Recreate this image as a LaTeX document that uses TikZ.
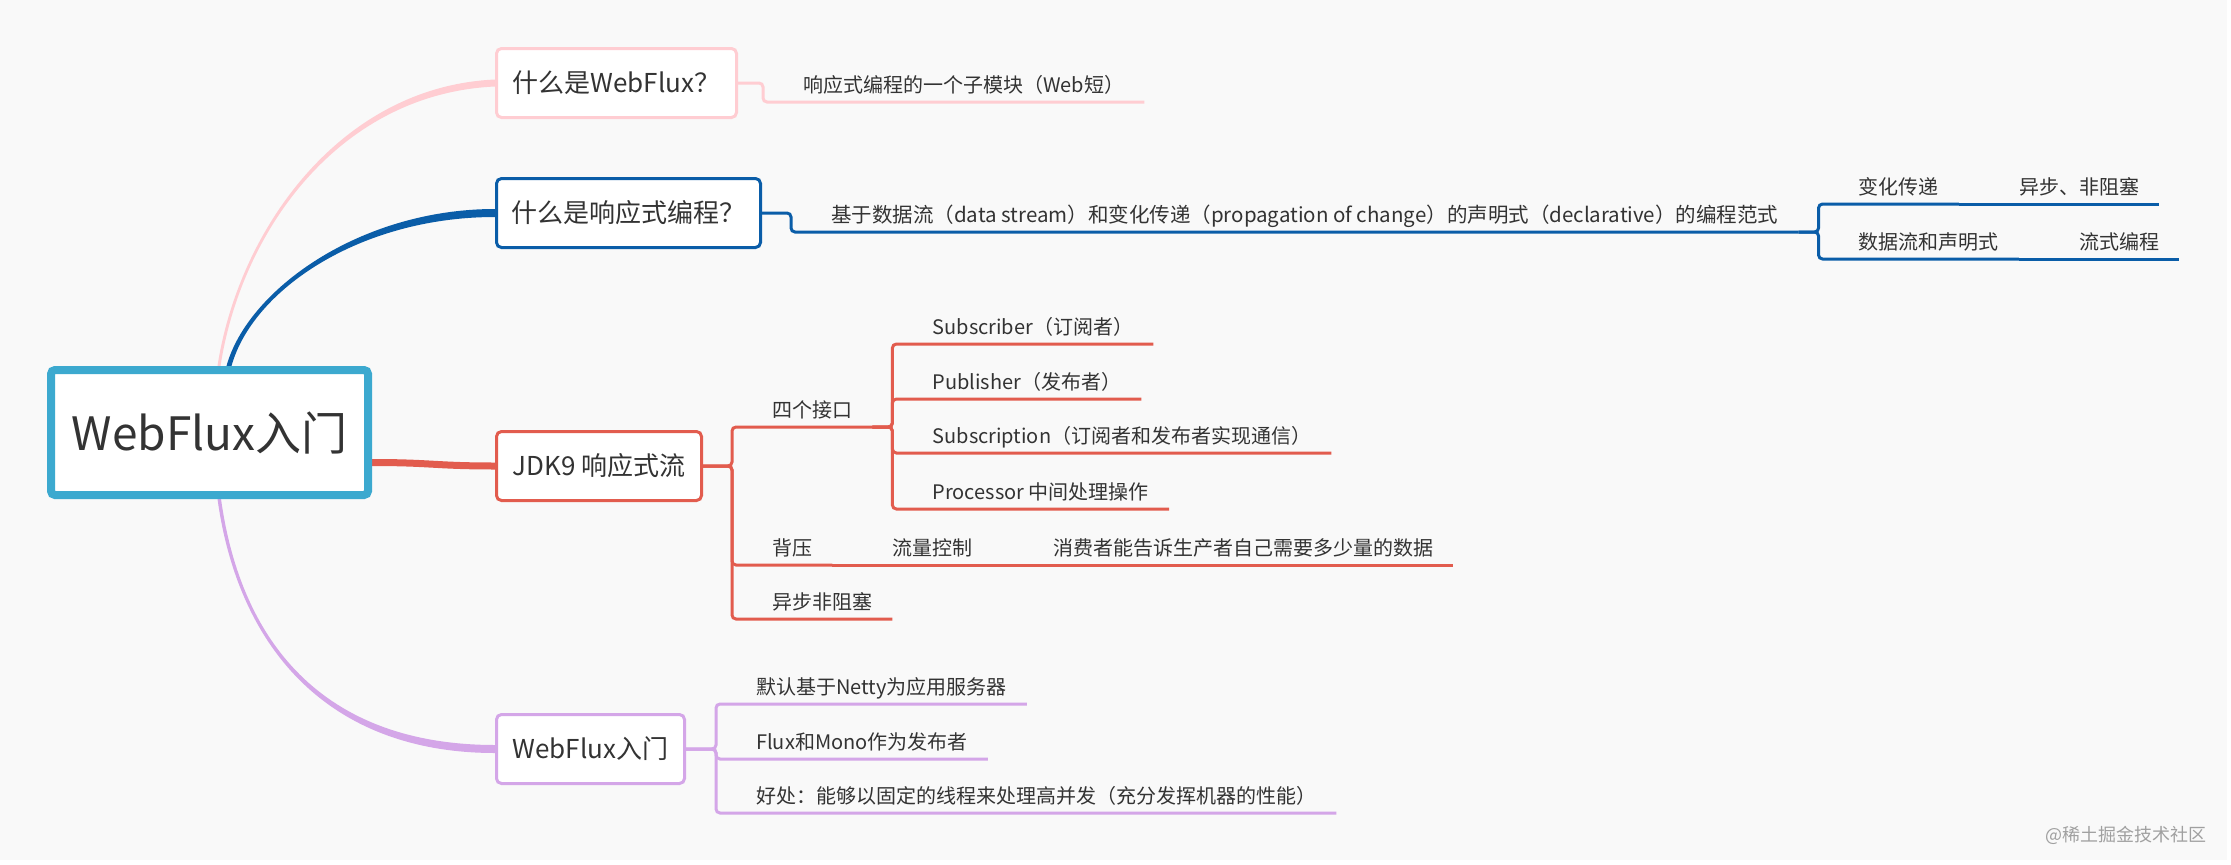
\documentclass[tikz,border=0pt]{standalone}
\usepackage{fontspec}
\setmainfont{Noto Sans CJK SC}
\definecolor{bg}{RGB}{249,249,249}
\definecolor{cpink}{RGB}{255,205,210}
\definecolor{cblue}{RGB}{10,93,168}
\definecolor{cred}{RGB}{226,92,78}
\definecolor{cpurple}{RGB}{212,166,232}
\definecolor{croot}{RGB}{60,169,207}
\definecolor{ctext}{RGB}{51,51,51}
\definecolor{cwm}{RGB}{160,160,160}
\pgfdeclarelayer{background}
\pgfsetlayers{background,main}
\begin{document}
\begin{tikzpicture}[x=1pt,y=-1pt,
  box/.style={draw, fill=white, rounded corners=5pt, line width=3pt, minimum height=69pt, inner sep=0pt, text=ctext, font=\fontsize{26pt}{30pt}\selectfont},
  leaf/.style={anchor=south west, inner sep=0pt, text height=14pt, text depth=9pt, text=ctext, font=\fontsize{20pt}{24pt}\selectfont, execute at begin node={\hspace*{40pt}}, execute at end node={\hspace*{20pt}}},
  link/.style={line width=3pt, rounded corners=4pt},
]
\useasboundingbox (0,0) rectangle (2231,865);

% root and main boxes
\node[draw=croot, line width=8pt, fill=white, rounded corners=4pt, minimum width=317pt, minimum height=125pt, inner sep=0pt, text=ctext, font=\fontsize{46pt}{50pt}\selectfont] (root) at (209.5,432.5) {WebFlux入门};
\node[box, draw=cpink, minimum width=240pt] (A) at (616.5,83) {什么是WebFlux？};
\node[box, draw=cblue, minimum width=264pt] (B) at (628.5,213) {什么是响应式编程？};
\node[box, draw=cred, minimum width=205pt] (C) at (599,466) {JDK9 响应式流};
\node[box, draw=cpurple, minimum width=188pt] (D) at (590.5,749) {WebFlux入门};

\begin{pgfonlayer}{background}
\fill[white] (0,0) rectangle (2231,865);
\fill[bg] (0,0) rectangle (2227,860);
% tapered main branches
\fill[cpink] ([xshift=8pt]root.north) .. controls +(21,-136) and +(-155,7) .. ([yshift=3.5pt]A.west)
  -- ([yshift=-3.5pt]A.west) .. controls +(-155,7) and +(21,-136) .. ([xshift=11pt]root.north) -- cycle;
\fill[cblue] ([xshift=17pt]root.north) .. controls +(21,-76) and +(-135,0) .. ([yshift=4pt]B.west)
  -- ([yshift=-4pt]B.west) .. controls +(-135,0) and +(21,-76) .. ([xshift=22pt]root.north) -- cycle;
\fill[cpurple] ([xshift=8pt]root.south) .. controls +(21,151) and +(-165,0) .. ([yshift=-4pt]D.west)
  -- ([yshift=4pt]D.west) .. controls +(-165,0) and +(21,151) .. ([xshift=11.5pt]root.south) -- cycle;
\draw[cred, line width=7pt] ([yshift=-30pt]root.east) .. controls +(60,0) and +(-60,0) .. (C.west);
\end{pgfonlayer}

% A branch
\coordinate (a0) at ([xshift=25pt]A.east);
\node[leaf] (a1) at (a0 |- 0,102) {响应式编程的一个子模块（Web短）};
\draw[link, cpink] (A.east) -- (a0) -- (a1.south west) -- (a1.south east);

% B branch
\coordinate (b0) at ([xshift=29pt]B.east);
\node[leaf, font=\fontsize{20.5pt}{24pt}\selectfont] (b1) at (b0 |- 0,232) {基于数据流（data stream）和变化传递（propagation of change）的声明式（declarative）的编程范式};
\draw[link, cblue] (B.east) -- (b0) -- (b1.south west) -- (b1.south east);
\coordinate (bb) at ([xshift=20pt]b1.south east);
\node[leaf] (b2) at (bb |- 0,204) {变化传递};
\node[leaf] (b3) at (bb |- 0,259) {数据流和声明式};
\draw[link, cblue] (b1.south east) -- (bb) -- (b2.south west) -- (b2.south east);
\draw[link, cblue] (b1.south east) -- (bb) -- (b3.south west) -- (b3.south east);
\node[leaf] (b4) at ([xshift=20pt]b2.south east) {异步、非阻塞};
\node[leaf] (b5) at ([xshift=20pt]b3.south east) {流式编程};
\draw[link, cblue] (b2.south east) -- (b4.south west) -- (b4.south east);
\draw[link, cblue] (b3.south east) -- (b5.south west) -- (b5.south east);

% C branch
\coordinate (c0) at ([xshift=29pt]C.east);
\node[leaf] (c1) at (c0 |- 0,427) {四个接口};
\node[leaf] (c2) at (c0 |- 0,565) {背压};
\node[leaf] (c3) at (c0 |- 0,619) {异步非阻塞};
\draw[link, cred] (C.east) -- (c0) -- (c1.south west) -- (c1.south east);
\draw[link, cred] (C.east) -- (c0) -- (c2.south west) -- (c2.south east);
\draw[link, cred] (C.east) -- (c0) -- (c3.south west) -- (c3.south east);
\coordinate (k0) at ([xshift=20pt]c1.south east);
\node[leaf] (k1) at (k0 |- 0,344) {Subscriber（订阅者）};
\node[leaf] (k2) at (k0 |- 0,399) {Publisher（发布者）};
\node[leaf] (k3) at (k0 |- 0,453) {Subscription（订阅者和发布者实现通信）};
\node[leaf] (k4) at (k0 |- 0,509) {Processor 中间处理操作};
\draw[link, cred] (c1.south east) -- (k0) -- (k1.south west) -- (k1.south east);
\draw[link, cred] (c1.south east) -- (k0) -- (k2.south west) -- (k2.south east);
\draw[link, cred] (c1.south east) -- (k0) -- (k3.south west) -- (k3.south east);
\draw[link, cred] (c1.south east) -- (k0) -- (k4.south west) -- (k4.south east);
\node[leaf] (p2) at ([xshift=20pt]c2.south east) {流量控制};
\node[leaf] (p3) at ([xshift=20pt]p2.south east) {消费者能告诉生产者自己需要多少量的数据};
\draw[link, cred] (c2.south east) -- (p2.south west) -- (p2.south east);
\draw[link, cred] (p2.south east) -- (p3.south west) -- (p3.south east);

% D branch
\coordinate (d0) at ([xshift=30pt]D.east);
\node[leaf] (d1) at (d0 |- 0,704) {默认基于Netty为应用服务器};
\node[leaf] (d2) at (d0 |- 0,759) {Flux和Mono作为发布者};
\node[leaf] (d3) at (d0 |- 0,813) {好处：能够以固定的线程来处理高并发（充分发挥机器的性能）};
\draw[link, cpurple] (D.east) -- (d0) -- (d1.south west) -- (d1.south east);
\draw[link, cpurple] (D.east) -- (d0) -- (d2.south west) -- (d2.south east);
\draw[link, cpurple] (D.east) -- (d0) -- (d3.south west) -- (d3.south east);

% watermark
\node[anchor=east, inner sep=0pt, text=cwm, font=\fontsize{18pt}{20pt}\selectfont] (wm) at (2207,835) {@稀土掘金技术社区};
\end{tikzpicture}
\end{document}
